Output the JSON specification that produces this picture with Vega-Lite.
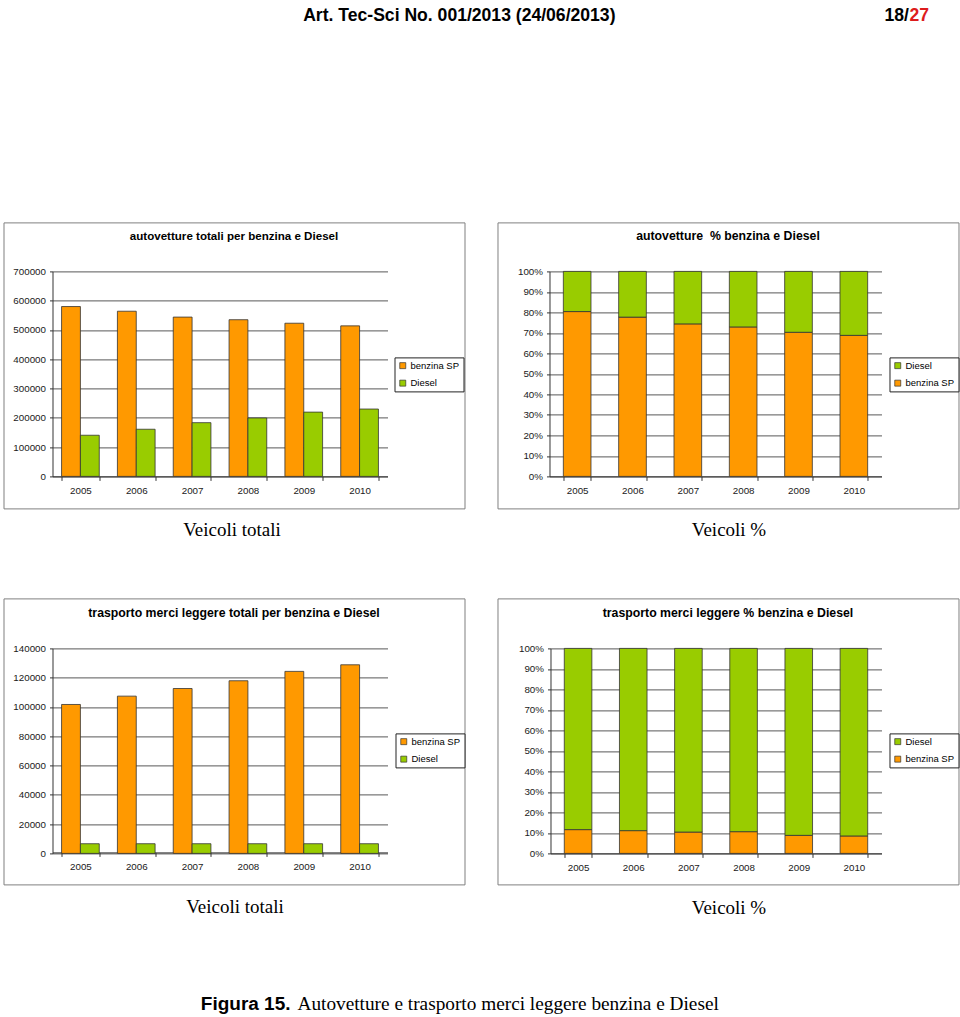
{
  "$schema": "https://vega.github.io/schema/vega-lite/v6.json",
  "padding": {"left": 2.5, "top": 6.4, "right": 0, "bottom": 0},
  "background": "white",
  "spacing": 57,
  "resolve": {"scale": {"color": "independent"}, "legend": {"color": "independent"}},
  "datasets": {
    "auto_tot": [
      {"anno": "2005", "carburante": "benzina SP", "valore": 580000},
      {"anno": "2006", "carburante": "benzina SP", "valore": 564000},
      {"anno": "2007", "carburante": "benzina SP", "valore": 544000},
      {"anno": "2008", "carburante": "benzina SP", "valore": 535000},
      {"anno": "2009", "carburante": "benzina SP", "valore": 523000},
      {"anno": "2010", "carburante": "benzina SP", "valore": 514000},
      {"anno": "2005", "carburante": "Diesel", "valore": 140500},
      {"anno": "2006", "carburante": "Diesel", "valore": 161000},
      {"anno": "2007", "carburante": "Diesel", "valore": 183500},
      {"anno": "2008", "carburante": "Diesel", "valore": 199500},
      {"anno": "2009", "carburante": "Diesel", "valore": 219500},
      {"anno": "2010", "carburante": "Diesel", "valore": 230000}
    ],
    "auto_pct": [
      {"anno": "2005", "carburante": "benzina SP", "valore": 80.4},
      {"anno": "2006", "carburante": "benzina SP", "valore": 77.7},
      {"anno": "2007", "carburante": "benzina SP", "valore": 74.4},
      {"anno": "2008", "carburante": "benzina SP", "valore": 72.9},
      {"anno": "2009", "carburante": "benzina SP", "valore": 70.3},
      {"anno": "2010", "carburante": "benzina SP", "valore": 68.8},
      {"anno": "2005", "carburante": "Diesel", "valore": 19.6},
      {"anno": "2006", "carburante": "Diesel", "valore": 22.3},
      {"anno": "2007", "carburante": "Diesel", "valore": 25.6},
      {"anno": "2008", "carburante": "Diesel", "valore": 27.1},
      {"anno": "2009", "carburante": "Diesel", "valore": 29.7},
      {"anno": "2010", "carburante": "Diesel", "valore": 31.2}
    ],
    "merci_tot": [
      {"anno": "2005", "carburante": "benzina SP", "valore": 101700},
      {"anno": "2006", "carburante": "benzina SP", "valore": 107400},
      {"anno": "2007", "carburante": "benzina SP", "valore": 112600},
      {"anno": "2008", "carburante": "benzina SP", "valore": 117900},
      {"anno": "2009", "carburante": "benzina SP", "valore": 124300},
      {"anno": "2010", "carburante": "benzina SP", "valore": 128800},
      {"anno": "2005", "carburante": "Diesel", "valore": 6600},
      {"anno": "2006", "carburante": "Diesel", "valore": 6600},
      {"anno": "2007", "carburante": "Diesel", "valore": 6600},
      {"anno": "2008", "carburante": "Diesel", "valore": 6600},
      {"anno": "2009", "carburante": "Diesel", "valore": 6600},
      {"anno": "2010", "carburante": "Diesel", "valore": 6600}
    ],
    "merci_pct": [
      {"anno": "2005", "carburante": "benzina SP", "valore": 11.6},
      {"anno": "2006", "carburante": "benzina SP", "valore": 11.1},
      {"anno": "2007", "carburante": "benzina SP", "valore": 10.4},
      {"anno": "2008", "carburante": "benzina SP", "valore": 10.6},
      {"anno": "2009", "carburante": "benzina SP", "valore": 8.8},
      {"anno": "2010", "carburante": "benzina SP", "valore": 8.5},
      {"anno": "2005", "carburante": "Diesel", "valore": 88.4},
      {"anno": "2006", "carburante": "Diesel", "valore": 88.9},
      {"anno": "2007", "carburante": "Diesel", "valore": 89.6},
      {"anno": "2008", "carburante": "Diesel", "valore": 89.4},
      {"anno": "2009", "carburante": "Diesel", "valore": 91.2},
      {"anno": "2010", "carburante": "Diesel", "valore": 91.5}
    ]
  },
  "vconcat": [
    {
      "spacing": 0,
      "bounds": "flush",
      "hconcat": [
        {"width": 612, "height": 140, "data": {"values": []}, "mark": "point",
         "title": {"text": "Art. Tec-Sci No. 001/2013 (24/06/2013)", "anchor": "end", "frame": "group", "offset": 0, "font": "Liberation Sans", "fontSize": 17.6, "fontWeight": "bold", "color": "#000000"}},
        {"width": 293.5, "height": 140, "data": {"values": []}, "mark": "point",
         "title": {"text": "18/", "anchor": "end", "frame": "group", "offset": 0, "font": "Liberation Sans", "fontSize": 17.6, "fontWeight": "bold", "color": "#000000"}},
        {"width": 20, "height": 140, "data": {"values": []}, "mark": "point",
         "title": {"text": "27", "anchor": "start", "frame": "group", "offset": 0, "font": "Liberation Sans", "fontSize": 17.6, "fontWeight": "bold", "color": "#dd1c1c"}}
      ]
    },
    {
      "spacing": 33,
      "bounds": "flush",
      "resolve": {"scale": {"color": "independent"}, "legend": {"color": "independent"}},
      "hconcat": [
        {
          "width": 461, "height": 286,
          "view": {"stroke": "#808080", "strokeWidth": 1},
          "data": {"name": "auto_tot"},
          "title": {"text": "autovetture totali per benzina e Diesel", "anchor": "middle", "frame": "group", "offset": -20, "fontSize": 11.6},
          "mark": {"type": "bar", "stroke": "#333333", "strokeWidth": 0.8},
          "encoding": {
            "x": {"field": "anno", "type": "nominal",
                  "scale": {"range": [49, 384], "paddingInner": 0.325, "paddingOuter": 0.1625},
                  "axis": {"title": "Veicoli totali", "offset": -32, "titleX": 228, "titlePadding": 25.5}},
            "xOffset": {"field": "carburante", "type": "nominal", "scale": {"domain": ["benzina SP", "Diesel"], "paddingInner": 0, "paddingOuter": 0}},
            "y": {"field": "valore", "type": "quantitative",
                  "scale": {"domain": [0, 700000], "nice": false, "range": [254, 49]},
                  "axis": {"title": null, "offset": -49, "format": "d", "values": [0, 100000, 200000, 300000, 400000, 500000, 600000, 700000]}},
            "color": {"field": "carburante", "type": "nominal",
                      "scale": {"domain": ["benzina SP", "Diesel"], "range": ["#ff9900", "#99cc00"]},
                      "legend": {"legendX": 391, "legendY": 135}}
          }
        },
        {
          "width": 461, "height": 286,
          "view": {"stroke": "#808080", "strokeWidth": 1},
          "data": {"name": "auto_pct"},
          "title": {"text": "autovetture \u00a0% benzina e Diesel", "anchor": "middle", "frame": "group", "offset": -20, "fontSize": 12.3},
          "mark": {"type": "bar", "stroke": "#333333", "strokeWidth": 0.8},
          "encoding": {
            "x": {"field": "anno", "type": "nominal",
                  "scale": {"range": [52, 384], "paddingInner": 0.5, "paddingOuter": 0.25},
                  "axis": {"title": "Veicoli %", "offset": -32, "titleX": 231, "titlePadding": 25.5}},
            "y": {"field": "valore", "type": "quantitative", "stack": "normalize",
                  "scale": {"domain": [0, 1], "nice": false, "range": [254, 49]},
                  "axis": {"title": null, "offset": -52, "format": ".0%", "values": [0, 0.1, 0.2, 0.3, 0.4, 0.5, 0.6, 0.7, 0.8, 0.9, 1]}},
            "color": {"field": "carburante", "type": "nominal",
                      "scale": {"domain": ["Diesel", "benzina SP"], "range": ["#99cc00", "#ff9900"]},
                      "legend": {"legendX": 392, "legendY": 135}},
            "order": {"field": "carburante", "sort": "descending"}
          }
        }
      ]
    },
    {
      "spacing": 33,
      "bounds": "flush",
      "resolve": {"scale": {"color": "independent"}, "legend": {"color": "independent"}},
      "hconcat": [
        {
          "width": 461, "height": 286,
          "view": {"stroke": "#808080", "strokeWidth": 1},
          "data": {"name": "merci_tot"},
          "title": {"text": "trasporto merci leggere totali per benzina e Diesel", "anchor": "middle", "frame": "group", "offset": -21, "fontSize": 12.3},
          "mark": {"type": "bar", "stroke": "#333333", "strokeWidth": 0.8},
          "encoding": {
            "x": {"field": "anno", "type": "nominal",
                  "scale": {"range": [49, 384], "paddingInner": 0.325, "paddingOuter": 0.1625},
                  "axis": {"title": "Veicoli totali", "offset": -32, "titleX": 231, "titlePadding": 26.5}},
            "xOffset": {"field": "carburante", "type": "nominal", "scale": {"domain": ["benzina SP", "Diesel"], "paddingInner": 0, "paddingOuter": 0}},
            "y": {"field": "valore", "type": "quantitative",
                  "scale": {"domain": [0, 140000], "nice": false, "range": [255, 50]},
                  "axis": {"title": null, "offset": -49, "format": "d", "values": [0, 20000, 40000, 60000, 80000, 100000, 120000, 140000]}},
            "color": {"field": "carburante", "type": "nominal",
                      "scale": {"domain": ["benzina SP", "Diesel"], "range": ["#ff9900", "#99cc00"]},
                      "legend": {"legendX": 392, "legendY": 135}}
          }
        },
        {
          "width": 461, "height": 286,
          "view": {"stroke": "#808080", "strokeWidth": 1},
          "data": {"name": "merci_pct"},
          "title": {"text": "trasporto merci leggere % benzina e Diesel", "anchor": "middle", "frame": "group", "offset": -21, "fontSize": 12.3},
          "mark": {"type": "bar", "stroke": "#333333", "strokeWidth": 0.8},
          "encoding": {
            "x": {"field": "anno", "type": "nominal",
                  "scale": {"range": [53, 384], "paddingInner": 0.5, "paddingOuter": 0.25},
                  "axis": {"title": "Veicoli %", "offset": -31, "titleX": 231, "titlePadding": 26.5}},
            "y": {"field": "valore", "type": "quantitative", "stack": "normalize",
                  "scale": {"domain": [0, 1], "nice": false, "range": [255, 50]},
                  "axis": {"title": null, "offset": -53, "format": ".0%", "values": [0, 0.1, 0.2, 0.3, 0.4, 0.5, 0.6, 0.7, 0.8, 0.9, 1]}},
            "color": {"field": "carburante", "type": "nominal",
                      "scale": {"domain": ["Diesel", "benzina SP"], "range": ["#99cc00", "#ff9900"]},
                      "legend": {"legendX": 392, "legendY": 135}},
            "order": {"field": "carburante", "sort": "descending"}
          }
        }
      ]
    },
    {
      "spacing": 7,
      "bounds": "flush",
      "hconcat": [
        {"width": 287, "height": 20, "data": {"values": []}, "mark": "point",
         "title": {"text": "Figura 15.", "orient": "bottom", "anchor": "end", "frame": "group", "offset": 0, "font": "Liberation Sans", "fontSize": 19, "fontWeight": "bold", "color": "#000000"}},
        {"width": 430, "height": 20, "data": {"values": []}, "mark": "point",
         "title": {"text": "Autovetture e trasporto merci leggere benzina e Diesel", "orient": "bottom", "anchor": "start", "frame": "group", "offset": 0, "font": "Liberation Serif", "fontSize": 19.3, "fontWeight": "normal", "color": "#000000"}}
      ]
    }
  ],
  "config": {
    "view": {"stroke": null},
    "title": {"font": "Liberation Sans", "fontSize": 11, "fontWeight": "bold", "color": "#000000"},
    "axis": {
      "labelFont": "Liberation Sans", "labelFontSize": 9.8, "labelColor": "#1a1a1a",
      "domainColor": "#333333", "domainWidth": 1, "tickColor": "#333333", "tickWidth": 1,
      "titleFont": "Liberation Serif", "titleFontSize": 19, "titleFontWeight": "normal", "titleColor": "#000000"
    },
    "axisX": {"labelAngle": 0, "tickBand": "extent", "tickSize": 4, "labelPadding": 5, "grid": false},
    "axisY": {"grid": true, "gridColor": "#444444", "gridWidth": 0.9, "tickSize": 3, "labelPadding": 4},
    "legend": {
      "orient": "none", "title": null, "direction": "vertical",
      "strokeColor": "#222222", "fillColor": "#ffffff", "padding": 3.5,
      "symbolType": "square", "symbolSize": 36, "symbolStrokeColor": "#333333", "symbolStrokeWidth": 0.7,
      "labelFont": "Liberation Sans", "labelFontSize": 9.5, "labelColor": "#000000", "labelOffset": 3, "rowPadding": 6.5
    }
  }
}
